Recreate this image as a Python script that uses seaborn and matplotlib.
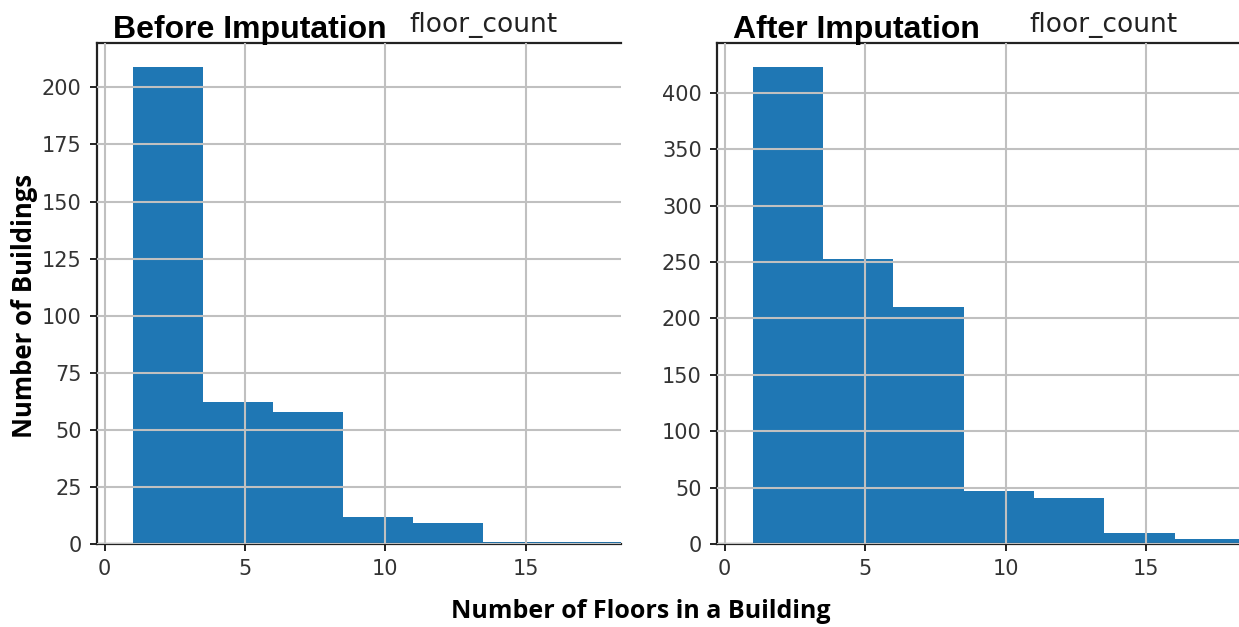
import matplotlib
matplotlib.use("Agg")
import matplotlib.pyplot as plt
import seaborn as sns
import numpy as np

# Data (visible part of the histograms)
bin_edges = [1.0, 3.5, 6.0, 8.5, 11.0, 13.5, 16.0, 18.5]
before_counts = [209, 62, 58, 12, 9, 1, 1]
after_counts = [423, 253, 210, 47, 41, 10, 4]
before_yticks = [0, 25, 50, 75, 100, 125, 150, 175, 200]
after_yticks = [0, 50, 100, 150, 200, 250, 300, 350, 400]
xticks = [0, 5, 10, 15]

sns.set_style("ticks")
plt.rcParams['font.family'] = ['DejaVu Sans']

W, H = 1239, 627
fig = plt.figure(figsize=(W / 100, H / 100), dpi=100)

def px_axes(left, top, right, bottom):
    return fig.add_axes([left / W, 1 - bottom / H, (right - left) / W, (bottom - top) / H])

ax1 = px_axes(97, 43, 621, 544)
ax2 = px_axes(717, 43, 1242, 544)

centers = [(a + b) / 2 for a, b in zip(bin_edges[:-1], bin_edges[1:])]

for ax, counts, yt, ymax in [(ax1, before_counts, before_yticks, max(before_counts) * 1.05),
                             (ax2, after_counts, after_yticks, max(after_counts) * 1.05)]:
    sns.histplot(x=centers, weights=counts, bins=bin_edges, ax=ax,
                 color='#1f77b4', alpha=1.0, edgecolor='none', linewidth=0)
    ax.set_xlim(-0.27, 18.4)
    ax.set_ylim(0, ymax)
    ax.set_xticks(xticks)
    ax.set_yticks(yt)
    ax.grid(True, color='#c0c0c0', linewidth=1.5)
    ax.set_axisbelow(False)
    for p in ax.patches:
        p.set_zorder(1)
    ax.set_xlabel('')
    ax.set_ylabel('')
    ax.spines['right'].set_visible(False)
    for s in ['left', 'bottom', 'top']:
        ax.spines[s].set_linewidth(1.6)
        ax.spines[s].set_color('#222222')
    ax.tick_params(axis='both', labelsize=15, length=5, width=1.4, colors='#222222',
                   labelcolor='#333333', direction='out', pad=6)
    ax.set_title('floor_count', x=0.737, fontsize=19, family='DejaVu Sans',
                 color='#222222', pad=8)

fig.text(113 / W, 1 - 38 / H, 'Before Imputation', fontsize=23, fontweight='bold',
         family='Liberation Sans', ha='left', va='baseline', color='black')
fig.text(733 / W, 1 - 38 / H, 'After Imputation', fontsize=23, fontweight='bold',
         family='Liberation Sans', ha='left', va='baseline', color='black')

fig.text(641 / W, 1 - 618 / H, 'Number of Floors in a Building', fontsize=18,
         fontweight='bold', family='Open Sans', ha='center', va='baseline', color='black')
fig.text(25 / W, 1 - 306 / H, 'Number of Buildings', fontsize=18.5, fontweight='bold',
         family='Open Sans', ha='center', va='center', rotation=90, color='black')

fig.savefig('out.png', dpi=100)
